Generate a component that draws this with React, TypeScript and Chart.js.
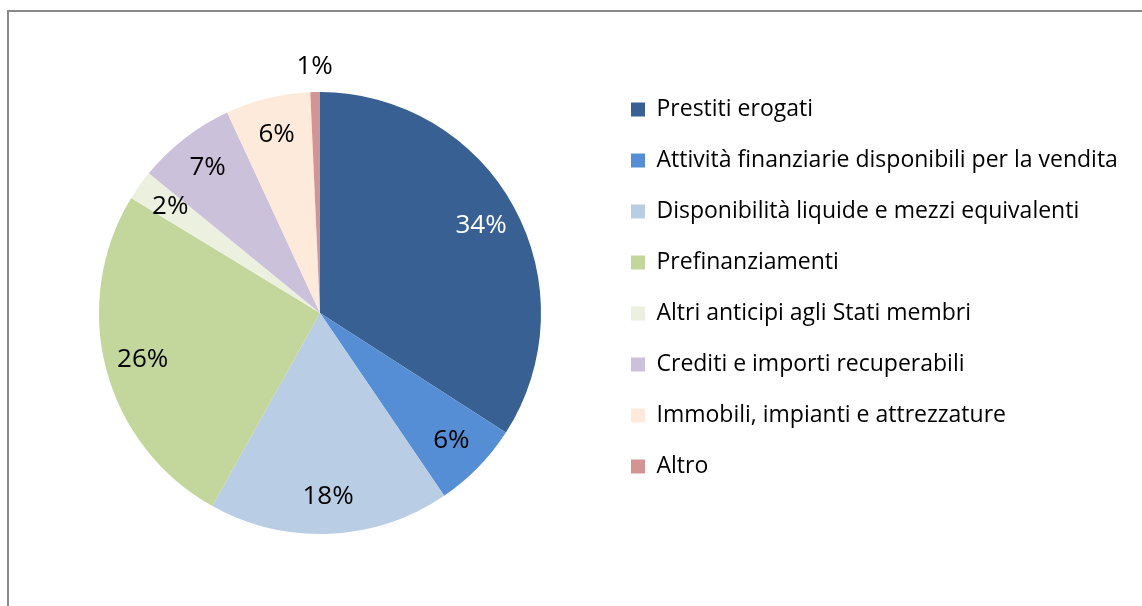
import React, { useEffect, useRef } from "react";
import { Chart, registerables } from "chart.js";

Chart.register(...registerables);

const categories = [
  "Prestiti erogati",
  "Attività finanziarie disponibili per la vendita",
  "Disponibilità liquide e mezzi equivalenti",
  "Prefinanziamenti",
  "Altri anticipi agli Stati membri",
  "Crediti e importi recuperabili",
  "Immobili, impianti e attrezzature",
  "Altro",
];
const values = [34.1, 6.4, 17.6, 25.6, 2.2, 7.2, 6.2, 0.7];
const colors = ["#386092", "#558ED5", "#B9CDE5", "#C3D69B", "#EBF1DE", "#CCC1DA", "#FDEADA", "#D39594"];
const labelColors = ["#FFFFFF", "#000000", "#000000", "#000000", "#000000", "#000000", "#000000", "#000000"];

const FONT = "'Open Sans', sans-serif";
const LEGEND_W = 539;

const legendWidthPlugin = {
  id: "legendWidth",
  beforeLayout(chart: any) {
    const lg = chart.legend;
    if (lg && !lg._patchedFit) {
      const orig = lg.fit.bind(lg);
      lg.fit = function () {
        orig();
        this.width = LEGEND_W;
      };
      lg._patchedFit = true;
    }
  },
};

const pctLabels = {
  id: "pctLabels",
  afterDatasetsDraw(chart: any) {
    const meta = chart.getDatasetMeta(0);
    const data = chart.data.datasets[0].data as number[];
    const total = data.reduce((a, b) => a + b, 0);
    const ctx = chart.ctx;
    ctx.save();
    ctx.font = `26px ${FONT}`;
    ctx.textAlign = "center";
    ctx.textBaseline = "middle";
    meta.data.forEach((arc: any, i: number) => {
      const { x, y, startAngle, endAngle, outerRadius } = arc.getProps(
        ["x", "y", "startAngle", "endAngle", "outerRadius"],
        true
      );
      const mid = (startAngle + endAngle) / 2;
      const pct = (data[i] / total) * 100;
      const r = pct < 1.5 ? outerRadius + 25 : outerRadius * 0.83;
      ctx.fillStyle = labelColors[i];
      ctx.fillText(Math.round(pct) + "%", x + Math.cos(mid) * r, y + Math.sin(mid) * r);
    });
    ctx.restore();
  },
};

export default function App() {
  const ref = useRef<HTMLCanvasElement | null>(null);
  useEffect(() => {
    if (!ref.current) return;
    const chart = new Chart(ref.current, {
      type: "pie",
      data: {
        labels: categories,
        datasets: [
          {
            data: values,
            backgroundColor: colors,
            borderWidth: 0,
            radius: 221,
          } as any,
        ],
      },
      options: {
        responsive: false,
        animation: false,
        layout: { padding: { left: 37, right: 0, top: 70, bottom: 50 } },
        plugins: {
          legend: {
            position: "right",
            align: "start",
            labels: {
              boxWidth: 14,
              boxHeight: 14,
              padding: 28,
              color: "#000000",
              font: { family: FONT, size: 23 },
            },
          },
          tooltip: { enabled: false },
        },
      },
      plugins: [legendWidthPlugin, pctLabels],
    });
    return () => chart.destroy();
  }, []);

  return (
    <div style={{ position: "fixed", left: 0, top: 0, width: 1142, height: 606, background: "#fff", overflow: "hidden" }}>
      <div
        style={{
          position: "absolute",
          left: 7,
          top: 10,
          width: 1200,
          height: 700,
          borderLeft: "2px solid #898989",
          borderTop: "2px solid #898989",
        }}
      />
      <canvas ref={ref} width={1142} height={606} style={{ position: "absolute", left: 0, top: 0 }} />
    </div>
  );
}
